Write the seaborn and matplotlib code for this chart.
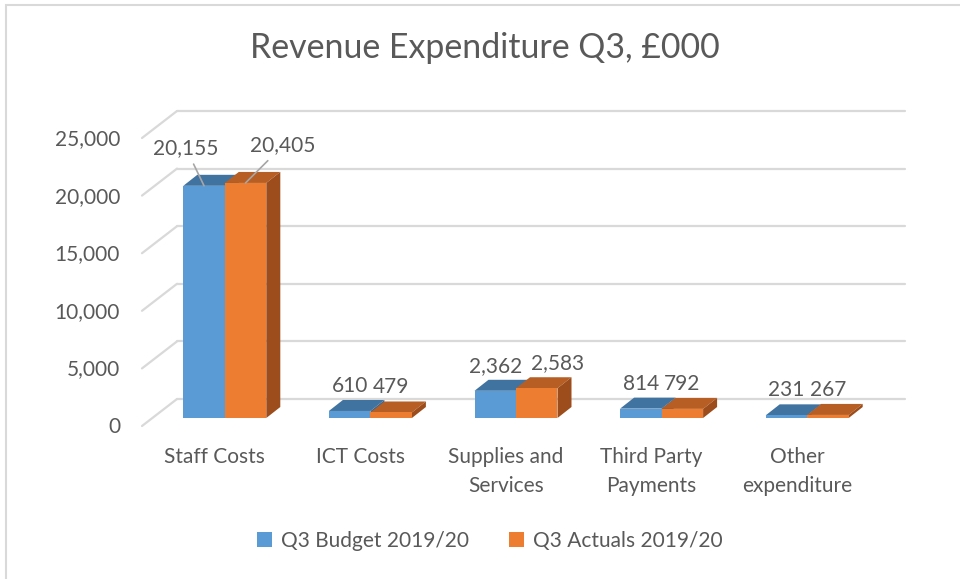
import pandas as pd
import matplotlib.pyplot as plt
import seaborn as sns
from matplotlib.patches import Patch, Polygon, Rectangle
from matplotlib.transforms import IdentityTransform, ScaledTranslation

# chart data
categories = ["Staff Costs", "ICT Costs", "Supplies and\nServices",
              "Third Party\nPayments", "Other\nexpenditure"]
series = ["Q3 Budget 2019/20", "Q3 Actuals 2019/20"]
budget = [20155, 610, 2362, 814, 231]
actuals = [20405, 479, 2583, 792, 267]
y_ticks = [0, 5000, 10000, 15000, 20000, 25000]

front_cols = ["#5B9BD5", "#ED7D31"]
top_cols = ["#4173A0", "#B65E23"]
side_cols = ["#3A6690", "#9C4D1B"]
grey = "#595959"
grid = "#D9D9D9"

df = pd.DataFrame({
    "category": categories * 2,
    "series": [series[0]] * 5 + [series[1]] * 5,
    "value": budget + actuals,
})

sns.set_style("white")
plt.rcParams["font.family"] = ["Lato", "DejaVu Sans"]

fig = plt.figure(figsize=(9.6, 5.79), dpi=100)
ax = fig.add_axes([152 / 960, 161 / 579, 728 / 960, 288 / 579])

sns.barplot(data=df, x="category", y="value", hue="series", palette=front_cols,
            width=0.57, gap=0, saturation=1, legend=False, ax=ax, zorder=2,
            linewidth=0, edgecolor="none")
ax.set_xlim(-0.5, len(categories) - 0.5)
ax.set_ylim(0, 25000)
ax.set_yticks(y_ticks)
ax.set_yticklabels([f"{t:,}" for t in y_ticks])
ax.set_xlabel("")
ax.set_ylabel("")
sns.despine(ax=ax, left=True, bottom=True)
ax.tick_params(axis="y", length=0, pad=23, labelsize=15, labelcolor=grey)
ax.tick_params(axis="x", length=0, pad=21, labelsize=15, labelcolor=grey)
for lab in ax.get_xticklabels():
    lab.set_linespacing(1.55)
    lab.set_transform(lab.get_transform() + ScaledTranslation(-0.10, 0, fig.dpi_scale_trans))
for lab in ax.get_yticklabels():
    lab.set_transform(lab.get_transform() + ScaledTranslation(0, -0.07, fig.dpi_scale_trans))

# back wall gridlines + diagonal side wall
ident = IdentityTransform()
x_left = ax.transData.transform((-0.5, 0))[0]
x_right = ax.transData.transform((len(categories) - 0.5, 0))[0]
for t in y_ticks:
    yd = ax.transData.transform((0, t))[1]
    ax.plot([x_left + 25, x_right + 25], [yd + 19, yd + 19], color=grid, lw=1.6,
            transform=ident, clip_on=False, zorder=0.1)
    ax.plot([x_left - 10, x_left + 25], [yd - 8, yd + 19], color=grid, lw=1.6,
            transform=ident, clip_on=False, zorder=0.1)

# depth faces of the bars
dx, dy = 14, 11
for cont, tc, sc in zip(ax.containers, top_cols, side_cols):
    for bar in cont:
        (x0, y0), (x1, y1) = ax.transData.transform(
            [(bar.get_x(), 0), (bar.get_x() + bar.get_width(), bar.get_height())])
        top = [(x0, y1), (x1, y1), (x1 + dx, y1 + dy), (x0 + dx, y1 + dy)]
        side = [(x1, y0), (x1 + dx, y0 + dy), (x1 + dx, y1 + dy), (x1, y1)]
        ax.add_patch(Polygon(top, closed=True, fc=tc, ec="none", transform=ident,
                             clip_on=False, zorder=1))
        ax.add_patch(Polygon(side, closed=True, fc=sc, ec="none", transform=ident,
                             clip_on=False, zorder=1))

# data labels (a few nudged sideways, as in the original, to avoid overlaps)
nudges = {(0, 2): 0, (1, 2): 15}
for i, cont in enumerate(ax.containers):
    for j, bar in enumerate(cont):
        xc = bar.get_x() + bar.get_width() / 2
        h = bar.get_height()
        if j == 0:
            off = (-13, 27) if i == 0 else (27, 27)
            ax.annotate(f"{int(h):,}", xy=(xc, h), xytext=off, textcoords="offset points",
                        ha="center", va="center", fontsize=15, color=grey,
                        arrowprops=dict(arrowstyle="-", color="#A6A6A6", lw=1.2,
                                        shrinkA=2, shrinkB=0), annotation_clip=False)
        else:
            ax.annotate(f"{int(h):,}", xy=(xc, h), xytext=(nudges.get((i, j), 0), 18),
                        textcoords="offset points", ha="center", va="center",
                        fontsize=15, color=grey, annotation_clip=False)

fig.text(485 / 960, 1 - 48 / 579, "Revenue Expenditure Q3, £000", ha="center", va="center",
         fontsize=24.4, color=grey)

handles = [Patch(fc=c, ec="none") for c in front_cols]
fig.legend(handles, series, loc="center", bbox_to_anchor=(490 / 960, 1 - 541 / 579), ncol=2,
           frameon=False, fontsize=15, labelcolor=grey, handlelength=0.7, handleheight=0.7,
           handletextpad=0.45, columnspacing=1.9)

fig.add_artist(Rectangle((6 / 960, -0.1), 1.2, 1 - 5 / 579 + 0.1, transform=fig.transFigure,
                         fc="none", ec=grid, lw=1.5))

fig.savefig("out.png", dpi=100)
